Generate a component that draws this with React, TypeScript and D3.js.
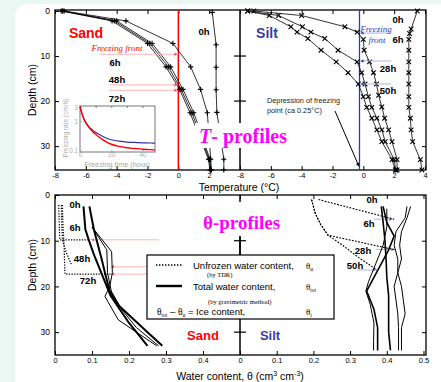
import { useEffect, useRef } from 'react'
import * as d3 from 'd3'

// [depth (cm), value]
type Pt = [number, number]

const W = 441
const H = 382

// ---- T-profiles, sand (°C), "+" markers ----
const SAND_T_0H: Pt[] = [[0.3, 2.2], [7.5, 2.45], [12.5, 2.45], [17.5, 2.45], [22.5, 2.5], [32.9, 2.95], [35.3, 2.95]]
const SAND_T_6H: Pt[] = [[0, -7.4], [2.2, -3.4], [7.2, -0.35], [12.4, 0.8], [17.4, 1.44], [22.6, 1.88], [32.9, 2.1], [35.3, 2.15]]
const SAND_T_24H: Pt[] = [[0, -7.5], [2.2, -4.0], [7.2, -1.7], [12.4, -0.5], [17.4, 0.3], [22.6, 1.0], [32.9, 2.05], [35.3, 2.1]]
const SAND_T_48H: Pt[] = [[0, -7.5], [2.2, -4.15], [7.2, -1.85], [12.4, -0.65], [17.4, 0.18], [22.6, 0.88], [32.9, 2.0], [35.3, 2.1]]
const SAND_T_72H: Pt[] = [[0, -7.6], [2.2, -4.3], [7.2, -2.0], [12.4, -0.8], [17.4, 0.08], [22.6, 0.76], [32.9, 1.95], [35.3, 2.05]]

// ---- T-profiles, silt (°C), "x" markers ----
const SILT_T_0H: Pt[] = [[0, 3.5], [4, 3.1], [5, 3.0], [6.3, 2.95], [8.7, 2.95], [11.3, 2.95], [13.7, 2.95], [16.2, 2.95], [19, 2.95], [21.4, 2.95], [23.8, 3.05], [26.4, 3.1], [29, 3.2], [33, 3.7], [35.3, 3.8]]
const SILT_T_6H: Pt[] = [[0, -7.1], [1, -4.0], [3.5, -1.2], [4.7, -0.4], [6.3, 0], [8.7, 0.05], [11.3, 0.4], [13.7, 0.66], [16.2, 0.85], [18.7, 0.99], [21.3, 1.2], [23.8, 1.38], [26.4, 1.64], [29, 1.86], [33, 2.19], [35.3, 2.19]]
const SILT_T_28H: Pt[] = [[0, -7.5], [1, -5.5], [3.5, -3.95], [4.7, -3.4], [6.1, -2.5], [8.7, -1.64], [11.3, -0.4], [13.7, -0.11], [16.2, 0.11], [19, 0.33], [21.4, 0.55], [23.8, 0.88], [26.4, 1.2], [29, 1.42], [33, 2.0], [35.3, 2.1]]
const SILT_T_50H: Pt[] = [[0, -7.5], [1, -6.1], [3.5, -4.7], [4.7, -4.3], [6.1, -3.6], [8.7, -2.74], [11.3, -1.76], [13.7, -0.99], [16.2, -0.33], [19, 0], [21.4, 0.22], [23.8, 0.55], [26.4, 0.88], [29, 1.2], [33, 1.86], [35.3, 2.08]]

// freezing front depths (cm)
const SAND_FRONT_T = [9.6, 16.4, 17.6]
const SILT_FRONT_T = [4.9, 11.1, 16.2]
const SILT_FREEZE_POINT = -0.25

// ---- inset: freezing rate (cm/h) vs time (h) ----
const INSET_TIME = [0, 1, 2, 3, 4, 6, 8, 10, 13, 16, 20, 25, 30, 35, 40, 45, 48]
const RATE_SAND = [3.2, 2.0, 1.4, 1.05, 0.85, 0.6, 0.45, 0.36, 0.27, 0.21, 0.165, 0.14, 0.125, 0.118, 0.112, 0.108, 0.105]
const RATE_SILT = [3.2, 2.0, 1.4, 1.05, 0.85, 0.62, 0.5, 0.42, 0.34, 0.28, 0.235, 0.21, 0.195, 0.19, 0.185, 0.182, 0.18]

// ---- θ-profiles, sand (cm3/cm3) ----
const SAND_U_6H: Pt[] = [[2.2, 0.010], [5, 0.011], [7.5, 0.012], [9.8, 0.013], [9.8, 0.095]]
const SAND_U_48H: Pt[] = [[2.2, 0.017], [5, 0.018], [7.5, 0.019], [9.8, 0.02], [12.5, 0.03], [15.3, 0.045]]
const SAND_U_72H: Pt[] = [[2.2, 0.02], [5, 0.021], [7.5, 0.022], [10, 0.024], [12.5, 0.025], [15, 0.026], [17.3, 0.027], [17.3, 0.15]]
const SAND_TOT_A: Pt[] = [[2.5, 0.077], [7.5, 0.082], [10, 0.092], [13, 0.105], [16, 0.12], [19, 0.135], [22, 0.15], [25, 0.175], [28, 0.2], [31, 0.23], [33, 0.25]]
const SAND_TOT_B: Pt[] = [[2.5, 0.093], [7.5, 0.105], [10, 0.113], [14, 0.126], [18, 0.138], [21, 0.148], [24, 0.17], [27, 0.21], [30, 0.25], [33, 0.29]]
const SAND_TOT_C: Pt[] = [[7, 0.1], [12.4, 0.153], [17, 0.155], [20, 0.148], [22.2, 0.135], [27.3, 0.171], [30, 0.22], [33, 0.275]]
const SAND_TOT_D: Pt[] = [[7, 0.1], [12, 0.14], [17, 0.142], [21, 0.152], [25, 0.18], [29, 0.22], [33, 0.28]]
const SAND_FRONT_W: Pt[] = [[9.8, 0.095], [15.7, 0.149], [17.3, 0.149]]

// ---- θ-profiles, silt ----
const SILT_U_6H: Pt[] = [[1, 0.214], [5.3, 0.42]]
const SILT_U_28H: Pt[] = [[1, 0.195], [4, 0.205], [6.5, 0.22], [8.8, 0.24], [12, 0.423]]
const SILT_U_50H: Pt[] = [[1, 0.195], [4, 0.205], [6.5, 0.22], [8.8, 0.24], [11, 0.28], [13.5, 0.32], [16.4, 0.373]]
const SILT_TOT_A: Pt[] = [[2.5, 0.385], [6, 0.39], [10, 0.395], [14, 0.398], [18, 0.4], [22, 0.405], [26, 0.405], [30, 0.405], [34, 0.41]]
const SILT_TOT_B: Pt[] = [[2.5, 0.39], [6, 0.4], [9, 0.42], [12, 0.405], [15, 0.385], [18, 0.365], [21, 0.345], [25, 0.365], [29, 0.375], [34, 0.375]]
const SILT_TOT_C: Pt[] = [[2.5, 0.455], [5, 0.45], [8, 0.425], [11, 0.42], [14, 0.43], [17, 0.43], [20, 0.44], [23, 0.445], [26, 0.45], [29, 0.44], [34, 0.44]]
const SILT_TOT_D: Pt[] = [[2.5, 0.465], [5, 0.455], [8, 0.44], [11, 0.435], [14, 0.44], [17, 0.43], [20, 0.42], [23, 0.425], [26, 0.43], [29, 0.432], [34, 0.432]]
const SILT_TOT_E: Pt[] = [[3, 0.4], [7, 0.4], [11, 0.39], [15, 0.37], [19, 0.35], [21, 0.343], [24, 0.355], [28, 0.365], [32, 0.364], [34, 0.364]]
const SILT_FRONT_W: Pt[] = [[5.3, 0.418], [11.9, 0.423], [16.4, 0.373]]

const SAND_T_TICKS = [-8, -6, -4, -2, 0, 2]
const SILT_T_TICKS = [-8, -6, -4, -2, 0, 2, 4]
const SAND_W_TICKS = [0, 0.1, 0.2, 0.3, 0.4]
const SILT_W_TICKS = [0, 0.1, 0.2, 0.3, 0.4, 0.5]
const DEPTH_TICKS = [0, 10, 20, 30]

const SANS = '"Liberation Sans", Arial, sans-serif'
const SERIF = '"Liberation Serif", "Times New Roman", serif'
const RED = '#ff0000'
const BLUE = '#3a3aa6'
const MAGENTA = '#ff00ff'
const PINK = '#ffb4b4'
const LBLUE = '#aeb2e2'

type G = d3.Selection<SVGGElement, unknown, null, undefined>

function arrow(g: G, x1: number, y1: number, x2: number, y2: number, line: string, head: string, s = 3) {
  g.append('line').attr('x1', x1).attr('y1', y1).attr('x2', x2).attr('y2', y2)
    .attr('stroke', line).attr('stroke-width', 1)
  const a = Math.atan2(y2 - y1, x2 - x1)
  const bx = x2 - s * Math.cos(a), by = y2 - s * Math.sin(a)
  const nx = -Math.sin(a) * s * 0.55, ny = Math.cos(a) * s * 0.55
  g.append('path').attr('d', `M${x2},${y2}L${bx + nx},${by + ny}L${bx - nx},${by - ny}Z`).attr('fill', head)
}

export default function App() {
  const ref = useRef<SVGSVGElement>(null)

  useEffect(() => {
    const root = d3.select(ref.current)
    root.selectAll('*').remove()
    const svg = root.append('g') as unknown as G

    svg.append('rect').attr('width', W).attr('height', H).attr('fill', '#eaf8f3')
    svg.append('rect').attr('x', 15).attr('y', 4).attr('width', W).attr('height', H + 20).attr('rx', 12).attr('fill', '#fff')

    const L = 55, R = 426, MID = 240
    const T0 = 10, T1 = 170, B0 = 195, B1 = 355

    const xSandT = d3.scaleLinear().domain([-8, 4]).range([L, MID])
    const xSiltT = d3.scaleLinear().domain([-8, 4]).range([MID, 425])
    const yT = d3.scaleLinear().domain([0, 35.3]).range([11, T1])
    const xSandW = d3.scaleLinear().domain([0, 0.5]).range([L, MID])
    const xSiltW = d3.scaleLinear().domain([0, 0.5]).range([MID, 423.5])
    const yW = d3.scaleLinear().domain([0, 35]).range([B0, B1])

    const styleAxis = (ax: G, size = 8, color = '#000') => {
      ax.select('.domain').remove()
      ax.selectAll('.tick line').attr('stroke', color).attr('stroke-width', 1)
      ax.selectAll('.tick text').attr('font-family', SANS).attr('font-size', size).attr('fill', color)
    }
    const fmtT = (v: d3.NumberValue) => `${+v}`
    const fmtW = (v: d3.NumberValue) => (+v === 0 ? '0' : d3.format('.1f')(+v))

    // ---------- frames & axes ----------
    const axes = (x1: d3.ScaleLinear<number, number>, x2: d3.ScaleLinear<number, number>,
      t1: number[], t2: number[], y: d3.ScaleLinear<number, number>, y0: number, y1: number,
      fmt: (v: d3.NumberValue) => string) => {
      svg.append('rect').attr('x', L).attr('y', y0).attr('width', R - L).attr('height', y1 - y0)
        .attr('fill', 'none').attr('stroke', '#000').attr('stroke-width', 1.3)
      ;[[x1, t1], [x2, t2]].forEach(([sc, tv]) => {
        const s = sc as d3.ScaleLinear<number, number>
        const ticks = tv as number[]
        svg.append('g').attr('transform', `translate(0,${y1})`)
          .call(d3.axisBottom(s).tickValues(ticks).tickSize(-4).tickPadding(3).tickFormat(fmt))
          .call(g => styleAxis(g as unknown as G, 7.5))
        svg.append('g').attr('transform', `translate(0,${y0})`)
          .call(d3.axisTop(s).tickValues(ticks).tickSize(-4).tickFormat(() => ''))
          .call(g => styleAxis(g as unknown as G))
      })
      svg.append('g').attr('transform', `translate(${L},0)`)
        .call(d3.axisLeft(y).tickValues(DEPTH_TICKS).tickSize(-4).tickPadding(5))
        .call(g => styleAxis(g as unknown as G, 8.5))
      svg.append('g').attr('transform', `translate(${R},0)`)
        .call(d3.axisRight(y).tickValues(DEPTH_TICKS.slice(1)).tickSize(-4).tickFormat(() => ''))
        .call(g => styleAxis(g as unknown as G))
      // divider between the two soils
      svg.append('line').attr('x1', MID).attr('x2', MID).attr('y1', y0).attr('y2', y1)
        .attr('stroke', '#000').attr('stroke-width', 1.5)
      DEPTH_TICKS.slice(1).forEach(d => {
        svg.append('line').attr('x1', MID - 6).attr('x2', MID + 6).attr('y1', y(d)).attr('y2', y(d))
          .attr('stroke', '#000').attr('stroke-width', 1.2)
      })
    }
    axes(xSandT, xSiltT, SAND_T_TICKS, SILT_T_TICKS, yT, T0, T1, fmtT)
    axes(xSandW, xSiltW, SAND_W_TICKS, SILT_W_TICKS, yW, B0, B1, fmtW)

    // ---------- T-profiles ----------
    svg.append('line').attr('x1', xSandT(0)).attr('x2', xSandT(0)).attr('y1', T0).attr('y2', T1)
      .attr('stroke', RED).attr('stroke-width', 1.5)
    svg.append('line').attr('x1', xSiltT(SILT_FREEZE_POINT)).attr('x2', xSiltT(SILT_FREEZE_POINT))
      .attr('y1', T0).attr('y2', T1).attr('stroke', BLUE).attr('stroke-width', 1.3)

    const plus = 'M-2.6,0h5.2M0,-2.6v5.2'
    const cross = 'M-2.3,-2.3L2.3,2.3M-2.3,2.3L2.3,-2.3'
    const profile = (data: Pt[], x: d3.ScaleLinear<number, number>, marker: string) => {
      const line = d3.line<Pt>().x(p => x(p[1])).y(p => yT(p[0]))
      svg.append('path').attr('d', line(data)).attr('fill', 'none').attr('stroke', '#000').attr('stroke-width', 0.8)
      data.forEach(p => {
        svg.append('path').attr('d', marker).attr('transform', `translate(${x(p[1])},${yT(p[0])})`)
          .attr('stroke', '#000').attr('stroke-width', 1.1)
      })
    }
    ;[SAND_T_0H, SAND_T_6H, SAND_T_24H, SAND_T_48H, SAND_T_72H].forEach(d => profile(d, xSandT, plus))
    ;[SILT_T_0H, SILT_T_6H, SILT_T_28H, SILT_T_50H].forEach(d => profile(d, xSiltT, cross))

    // freezing front arrows
    SAND_FRONT_T.forEach((d, i) => arrow(svg, xSandT(i === 0 ? -5.1 : -4.5), yT(d), xSandT(0) - 1, yT(d), PINK, '#ff5050'))
    SILT_FRONT_T.forEach(d => arrow(svg, xSiltT(1.8), yT(d), xSiltT(SILT_FREEZE_POINT) + 1, yT(d), LBLUE, BLUE))
    arrow(svg, 335, 111, xSiltT(SILT_FREEZE_POINT) - 0.5, yT(34.5), '#000', '#000', 3.5)

    const txt = (x: number, y: number, s: string, o: { size?: number; fill?: string; weight?: string; family?: string; style?: string; anchor?: string } = {}) =>
      svg.append('text').attr('x', x).attr('y', y).text(s)
        .attr('font-family', o.family ?? SANS).attr('font-size', o.size ?? 9.5)
        .attr('font-weight', o.weight ?? 'normal').attr('font-style', o.style ?? 'normal')
        .attr('fill', o.fill ?? '#000').attr('text-anchor', o.anchor ?? 'middle')

    txt(86, 38, 'Sand', { size: 14, weight: 'bold', fill: RED })
    txt(204, 35, '0h', { weight: 'bold' })
    txt(117, 51, 'Freezing front', { family: SERIF, style: 'italic', size: 9, fill: RED })
    txt(115, 66, '6h', { weight: 'bold' })
    txt(117, 83, '48h', { weight: 'bold' })
    txt(117, 102, '72h', { weight: 'bold' })

    txt(267, 38, 'Silt', { size: 14, weight: 'bold', fill: BLUE })
    txt(398, 23, '0h', { weight: 'bold' })
    txt(398, 43, '6h', { weight: 'bold' })
    txt(388, 72, '28h', { weight: 'bold' })
    txt(388, 94, '50h', { weight: 'bold' })
    txt(376, 31.5, 'Freezing', { family: SERIF, style: 'italic', size: 9, fill: BLUE })
    txt(377, 42.5, 'front', { family: SERIF, style: 'italic', size: 9, fill: BLUE })
    txt(267, 103, 'Depression of freezing', { size: 7.3, anchor: 'start', fill: '#222' })
    txt(267, 113, 'point (ca 0.25°C)', { size: 7.3, anchor: 'start', fill: '#222' })

    // T-profiles title over a white patch
    svg.append('rect').attr('x', 195).attr('y', 123).attr('width', 87).attr('height', 25).attr('fill', '#fff')
    const tp = txt(199, 143, '', { family: SERIF, size: 20, weight: 'bold', fill: MAGENTA, anchor: 'start' })
    tp.append('tspan').attr('font-style', 'italic').text('T')
    tp.append('tspan').text('- profiles')

    // ---------- inset ----------
    const ix = d3.scaleLinear().domain([0, 48]).range([80, 155])
    const iy = d3.scaleLog().domain([0.09, 3.3]).range([152, 106])
    svg.append('rect').attr('x', 80).attr('y', 106).attr('width', 75).attr('height', 46)
      .attr('fill', '#fff').attr('stroke', '#777').attr('stroke-width', 1)
    const GRAY = '#a8a8a8'
    svg.append('g').attr('transform', 'translate(0,152)')
      .call(d3.axisBottom(ix).tickValues([0, 20, 40]).tickSize(-2).tickPadding(1))
      .call(g => styleAxis(g as unknown as G, 6.3, GRAY))
    svg.append('g').attr('transform', 'translate(0,106)')
      .call(d3.axisTop(ix).tickValues([0, 10, 20, 30, 40]).tickSize(-2).tickFormat(() => ''))
      .call(g => styleAxis(g as unknown as G, 7, '#777'))
    svg.append('g').attr('transform', 'translate(80,0)')
      .call(d3.axisLeft(iy).tickValues([0.1, 1, 3]).tickSize(-2).tickPadding(2).tickFormat(v => `${+v}`))
      .call(g => styleAxis(g as unknown as G, 6.3, GRAY))
    const rl = d3.line<number>().x((_, i) => ix(INSET_TIME[i])).y(v => iy(v)).curve(d3.curveMonotoneX)
    svg.append('path').attr('d', rl(RATE_SILT)).attr('fill', 'none').attr('stroke', '#3030a0').attr('stroke-width', 1.2)
    svg.append('path').attr('d', rl(RATE_SAND)).attr('fill', 'none').attr('stroke', RED).attr('stroke-width', 1.4)
    txt(117, 166.5, 'Freezing time (hour)', { size: 7.3, fill: GRAY })
    txt(0, 0, 'Freezing rate (cm/h)', { size: 6.5, fill: GRAY }).attr('transform', 'translate(68,128) rotate(-90)')

    // ---------- θ-profiles ----------
    const wline = (data: Pt[], x: d3.ScaleLinear<number, number>, width: number, dash?: string) => {
      const line = d3.line<Pt>().x(p => x(p[1])).y(p => yW(p[0]))
      const p = svg.append('path').attr('d', line(data)).attr('fill', 'none').attr('stroke', '#000')
        .attr('stroke-width', width)
      if (dash) p.attr('stroke-dasharray', dash)
    }
    SAND_FRONT_W.forEach((p, i) => arrow(svg, i === 0 ? xSandW(0.28) : xSandW(0.4), yW(p[0]), xSandW(p[1]) + 1, yW(p[0]), PINK, '#ff5050'))
    SILT_FRONT_W.forEach(p => arrow(svg, xSiltW(p[1] - 0.053), yW(p[0]), xSiltW(p[1]) - 1, yW(p[0]), LBLUE, '#6a6ad0'))

    ;[SAND_U_6H, SAND_U_48H, SAND_U_72H].forEach(d => wline(d, xSandW, 1.2, '1.3 1.4'))
    wline(SAND_TOT_C, xSandW, 1)
    wline(SAND_TOT_D, xSandW, 1)
    wline(SAND_TOT_A, xSandW, 2)
    wline(SAND_TOT_B, xSandW, 2)
    ;[SILT_U_6H, SILT_U_28H, SILT_U_50H].forEach(d => wline(d, xSiltW, 1.1, '1.8 1.4'))
    wline(SILT_TOT_C, xSiltW, 1)
    wline(SILT_TOT_D, xSiltW, 1)
    wline(SILT_TOT_E, xSiltW, 1)
    wline(SILT_TOT_A, xSiltW, 1.6)
    wline(SILT_TOT_B, xSiltW, 1.6)

    txt(75, 208, '0h', { weight: 'bold' })
    txt(75, 231, '6h', { weight: 'bold' })
    txt(82, 262, '48h', { weight: 'bold' })
    txt(88, 284, '72h', { weight: 'bold' })
    txt(372, 203, '0h', { weight: 'bold' })
    txt(369, 227, '6h', { weight: 'bold' })
    txt(363, 254, '28h', { weight: 'bold' })
    txt(355, 269, '50h', { weight: 'bold' })
    txt(203, 340, 'Sand', { size: 13, weight: 'bold', fill: RED })
    txt(270, 340, 'Silt', { size: 13, weight: 'bold', fill: BLUE })

    svg.append('rect').attr('x', 200).attr('y', 202).attr('width', 80).attr('height', 34).attr('fill', '#fff')
    txt(203, 229, 'θ-profiles', { family: SERIF, size: 19, weight: 'bold', fill: MAGENTA, anchor: 'start' })

    // legend
    svg.append('line').attr('x1', MID).attr('x2', MID).attr('y1', 237).attr('y2', 255).attr('stroke', '#000').attr('stroke-width', 1.5)
    svg.append('rect').attr('x', 147).attr('y', 255).attr('width', 187).attr('height', 64)
      .attr('fill', '#fff').attr('stroke', '#000').attr('stroke-width', 1.2)
    svg.append('line').attr('x1', 156).attr('x2', 182).attr('y1', 265).attr('y2', 265)
      .attr('stroke', '#000').attr('stroke-width', 1.6).attr('stroke-dasharray', '1.4 1.6')
    svg.append('line').attr('x1', 156).attr('x2', 182).attr('y1', 286).attr('y2', 286)
      .attr('stroke', '#000').attr('stroke-width', 2.4)
    txt(193, 268.5, 'Unfrozen water content,', { size: 9.5, anchor: 'start' })
    txt(207, 277, '(by TDR)', { size: 6.5, family: SERIF, anchor: 'start' })
    txt(193, 289.5, 'Total water content,', { size: 9.5, anchor: 'start' })
    txt(208, 304, '(by gravimetric method)', { size: 6.5, family: SERIF, anchor: 'start' })
    const theta = (x: number, y: number, sub: string) => {
      const t = txt(x, y, 'θ', { family: SERIF, size: 9, anchor: 'start' })
      t.append('tspan').attr('font-size', 5.5).attr('dy', 2).text(sub)
      return t
    }
    theta(306, 268.5, 'u')
    theta(306, 289.5, 'tot')
    theta(306, 315, 'i')
    const ice = txt(157, 315, '', { size: 9.5, anchor: 'start' })
    ice.append('tspan').attr('font-family', SERIF).text('θ')
    ice.append('tspan').attr('font-family', SERIF).attr('font-size', 5.5).attr('dy', 2).text('tot')
    ice.append('tspan').attr('dy', -2).text(' – ')
    ice.append('tspan').attr('font-family', SERIF).text('θ')
    ice.append('tspan').attr('font-family', SERIF).attr('font-size', 5.5).attr('dy', 2).text('u')
    ice.append('tspan').attr('dy', -2).text(' = Ice content,')

    // axis titles
    txt(0, 0, 'Depth (cm)', { size: 10.5 }).attr('transform', `translate(36,${(T0 + T1) / 2}) rotate(-90)`)
    txt(0, 0, 'Depth (cm)', { size: 10.5 }).attr('transform', `translate(36,${(B0 + B1) / 2 - 10}) rotate(-90)`)
    txt(239, 191, 'Temperature (°C)', { size: 10.5 })
    const wc = txt(240, 380, 'Water content, θ (cm', { size: 10.5 })
    wc.append('tspan').attr('font-size', 7).attr('dy', -4).text('3')
    wc.append('tspan').attr('dy', 4).text(' cm')
    wc.append('tspan').attr('font-size', 7).attr('dy', -4).text('-3')
    wc.append('tspan').attr('dy', 4).text(')')
  }, [])

  return (
    <svg ref={ref} width={W} height={H} style={{ position: 'absolute', left: 0, top: 0, display: 'block' }} />
  )
}
